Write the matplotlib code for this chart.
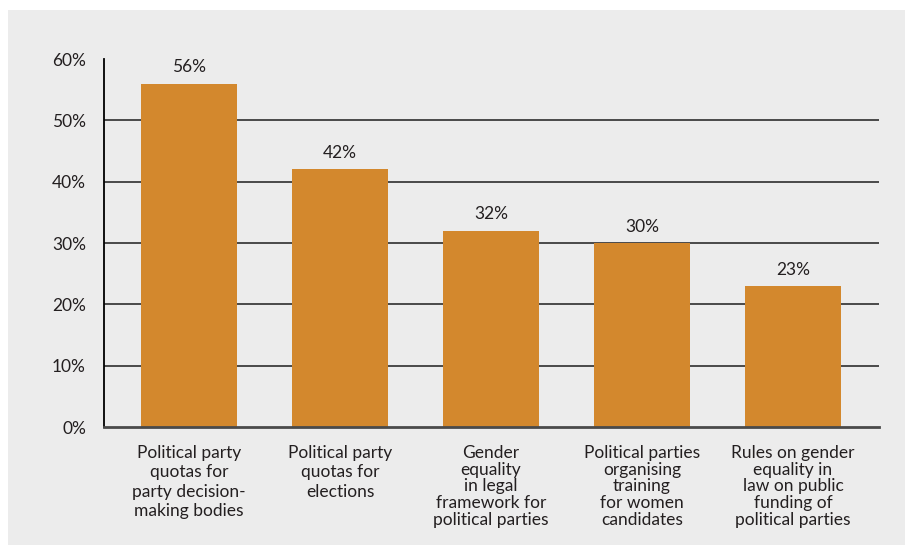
import matplotlib
matplotlib.use("Agg")
import matplotlib.pyplot as plt
from matplotlib.patches import Rectangle

# chart data
categories = [
    "Political party\nquotas for\nparty decision-\nmaking bodies",
    "Political party\nquotas for\nelections",
    "Gender\nequality\nin legal\nframework for\npolitical parties",
    "Political parties\norganising\ntraining\nfor women\ncandidates",
    "Rules on gender\nequality in\nlaw on public\nfunding of\npolitical parties",
]
values = [56, 42, 32, 30, 23]
yticks = [0, 10, 20, 30, 40, 50, 60]

bar_color = "#d3882d"
panel_color = "#ececec"
text_color = "#231f20"
line_color = "#3c3c3c"

plt.rcParams["font.family"] = ["Lato", "DejaVu Sans"]

fig = plt.figure(figsize=(9.05, 5.45), dpi=100)
fig.patch.set_facecolor("white")
fig.patches.append(Rectangle((8 / 905, 0), 1, 1 - 10 / 545, transform=fig.transFigure,
                             facecolor=panel_color, edgecolor="none", zorder=-10))

ax = fig.add_axes([104 / 905, 1 - 427 / 545, (879 - 104) / 905, (427 - 59) / 545])
ax.set_facecolor("none")

x = list(range(len(values)))
ax.bar(x, values, width=0.636, color=bar_color, zorder=2)

for xi, v in zip(x, values):
    ax.annotate(f"{v}%", (xi, v), xytext=(0, 6), textcoords="offset points",
                ha="center", va="bottom", fontsize=12.5, color=text_color)

ax.set_xlim(-0.563, 4.57)
ax.set_ylim(0, 60)
ax.set_yticks(yticks)
ax.set_yticklabels([f"{t}%" for t in yticks], fontsize=12.5, color=text_color)

for t in yticks[1:-1]:
    ax.axhline(t, color=line_color, linewidth=1.3, zorder=1)

ax.set_xticks(x)
ax.set_xticklabels([])
spacing = [1.25, 1.25, 1.05, 1.05, 1.05]
for xi, lab, ls in zip(x, categories, spacing):
    ax.annotate(lab, (xi, 0), xytext=(0, -13), textcoords="offset points",
                ha="center", va="top", fontsize=12.5, color=text_color,
                linespacing=ls, multialignment="center")

ax.tick_params(axis="both", length=0)
ax.tick_params(axis="y", pad=13)
for s in ["top", "right"]:
    ax.spines[s].set_visible(False)
ax.spines["left"].set_color("black")
ax.spines["left"].set_linewidth(1.3)
ax.spines["bottom"].set_color("#4a4a4a")
ax.spines["bottom"].set_linewidth(2)
ax.spines["bottom"].set_zorder(3)

fig.savefig("out.png", dpi=100)
